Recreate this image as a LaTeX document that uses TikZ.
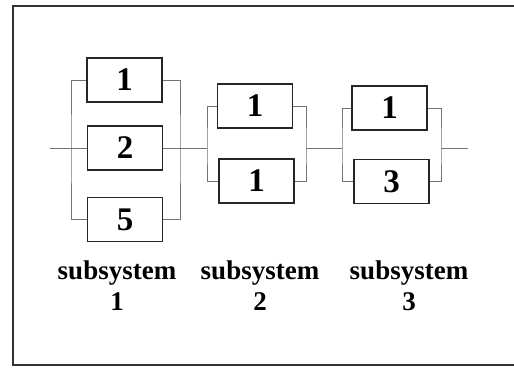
\documentclass[tikz,border=0pt]{standalone}
\usepackage{fontspec}
\setmainfont{Liberation Serif}
\usetikzlibrary{positioning}
\tikzstyle{unit} = [rectangle, draw=black!85, line width=1.2pt, minimum width=75pt, minimum height=44pt, inner sep=0pt, text centered, font=\fontsize{33}{33}\selectfont\bfseries]
\tikzstyle{wire} = [draw=black!55, line width=1pt]
\tikzstyle{caption} = [align=center, inner sep=0pt, font=\fontsize{27}{31}\selectfont\bfseries]
\tikzstyle{frame} = [draw=black!80, line width=1.6pt]

\begin{document}
\begin{tikzpicture}[x=1pt, y=-1pt]

    \useasboundingbox (0,0) rectangle (514,367);

    % outer frame (right side runs off the picture)
    \draw [frame] (515,6) -| (13,365) -- (515,365);

    % subsystem 1
    \node (u1a) [unit] at (124.5,80) {1};
    \node (u1b) [unit] at (125,148) {2};
    \node (u1c) [unit] at (125,219.5) {5};

    % subsystem 2
    \node (u2a) [unit] at (255,106) {1};
    \node (u2b) [unit] at (256.5,181) {1};

    % subsystem 3
    \node (u3a) [unit] at (389.5,108) {1};
    \node (u3b) [unit] at (391.5,181.5) {3};

    % bus points on the main line
    \coordinate (in) at (50,148);
    \coordinate (b1l) at (71,148);
    \coordinate (b1r) at (180,148);
    \coordinate (b2l) at (207,148);
    \coordinate (b2r) at (306,148);
    \coordinate (b3l) at (342,148);
    \coordinate (b3r) at (441,148);
    \coordinate (out) at (468,148);

    \draw [wire] (in) -- (u1b.west);
    \draw [wire] (u1a.west) -| (b1l) |- (u1c.west);
    \draw [wire] (u1a.east) -| (b1r) |- (u1c.east);
    \draw [wire] (u1b.east) -- (b2l);

    \draw [wire] (u2a.west) -| (b2l) |- (u2b.west);
    \draw [wire] (u2a.east) -| (b2r) |- (u2b.east);
    \draw [wire] (b2r) -- (b3l);

    \draw [wire] (u3a.west) -| (b3l) |- (u3b.west);
    \draw [wire] (u3a.east) -| (b3r) |- (u3b.east);
    \draw [wire] (b3r) -- (out);

    % captions
    \node (cap1) [caption] at (117,286) {subsystem\\1};
    \node (cap2) [caption] at (260,286) {subsystem\\2};
    \node (cap3) [caption] at (409,286) {subsystem\\3};

\end{tikzpicture}
\end{document}
